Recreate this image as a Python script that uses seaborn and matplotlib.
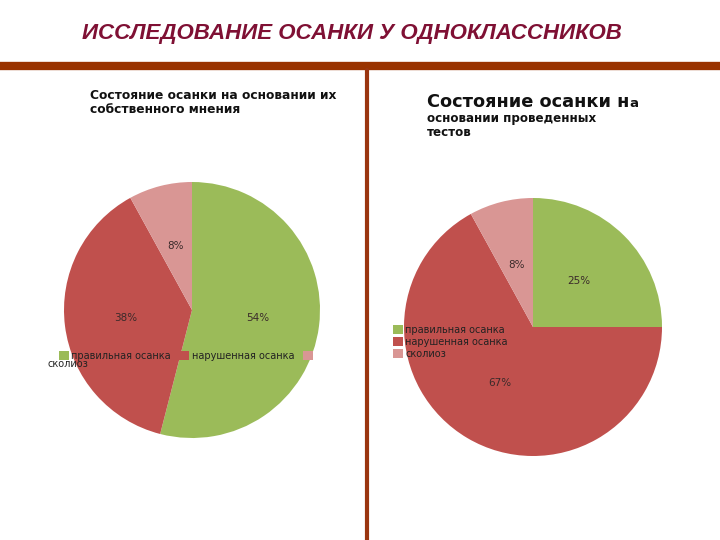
import matplotlib
matplotlib.use("Agg")
import matplotlib.pyplot as plt
from matplotlib.lines import Line2D
import seaborn as sns

sns.set_theme(style="white")
plt.rcParams['font.family'] = ['DejaVu Sans']

# данные
categories = ["правильная осанка", "нарушенная осанка", "сколиоз"]
opinion_values = [54, 38, 8]
tests_values = [25, 67, 8]
colors = ["#9BBB59", "#C0504D", "#D99694"]

W, H = 720, 540
fig = plt.figure(figsize=(7.2, 5.4), dpi=100)
fig.patch.set_facecolor("white")


def px(x, y):
    # пиксели (сверху вниз) -> доли фигуры
    return x / W, 1 - y / H


def pie_axes(cx, cy, r):
    x0, y0 = px(cx - r, cy + r)
    return fig.add_axes([x0, y0, 2 * r / W, 2 * r / H])


# заголовок
fig.text(*px(352, 33), "ИССЛЕДОВАНИЕ ОСАНКИ У ОДНОКЛАССНИКОВ", ha="center", va="center",
         fontsize=16, fontweight="bold", fontstyle="italic", color="#7F1034",
         family=["Liberation Sans", "DejaVu Sans"])

# линии
fig.add_artist(Line2D([0, 1], [1 - 66 / H] * 2, color="#993300", lw=6, transform=fig.transFigure))
fig.add_artist(Line2D([367 / W] * 2, [1 - 70 / H, 0], color="#9A3510", lw=3, transform=fig.transFigure))

# левая диаграмма
ax1 = pie_axes(192, 310, 128)
wedges1, _, autot1 = ax1.pie(opinion_values, colors=colors, startangle=90, counterclock=False,
                             autopct="%1.0f%%", pctdistance=0.52,
                             wedgeprops=dict(linewidth=0),
                             textprops=dict(fontsize=7.5, color="#3a2a2a"))
ax1.set_xlim(-1, 1)
ax1.set_ylim(-1, 1)
for w in wedges1:
    w.set_clip_on(False)

fig.text(*px(90, 89), "Состояние осанки на основании их\nсобственного мнения", ha="left", va="top",
         fontsize=8.8, fontweight="bold", color="#111111", linespacing=1.1)

fig.legend(wedges1, [categories[0], categories[1], ""], ncol=3, loc="upper left",
           bbox_to_anchor=px(54, 346), frameon=False, fontsize=7, borderpad=0,
           handlelength=1.0, handleheight=1.0, handletextpad=0.25, columnspacing=0.9,
           labelcolor="#222222")
fig.text(*px(47, 364), categories[2], ha="left", va="center", fontsize=7, color="#222222")

# правая диаграмма
ax2 = pie_axes(533, 327, 129)
wedges2, _, autot2 = ax2.pie(tests_values, colors=colors, startangle=90, counterclock=False,
                             autopct="%1.0f%%", pctdistance=0.5,
                             wedgeprops=dict(linewidth=0),
                             textprops=dict(fontsize=7.5, color="#3a2a2a"))
ax2.set_xlim(-1, 1)
ax2.set_ylim(-1, 1)
for w in wedges2:
    w.set_clip_on(False)

t_big = fig.text(*px(427, 107), "Состояние осанки н", ha="left", va="baseline",
                 fontsize=12.8, fontweight="bold", color="#111111")
fig.canvas.draw()
bb = t_big.get_window_extent()
fig.text(bb.x1 / W, 1 - 107 / H, "а", ha="left", va="baseline",
         fontsize=9.5, fontweight="bold", color="#111111")
fig.text(*px(427, 112), "основании проведенных\nтестов", ha="left", va="top",
         fontsize=8.6, fontweight="bold", color="#111111", linespacing=1.15)

fig.legend(wedges2, categories, ncol=1, loc="upper left",
           bbox_to_anchor=px(388, 320), frameon=False, fontsize=7, borderpad=0,
           handlelength=1.0, handleheight=1.0, handletextpad=0.25, labelspacing=0.2,
           labelcolor="#222222")

fig.savefig("out.png", dpi=100, facecolor="white")
